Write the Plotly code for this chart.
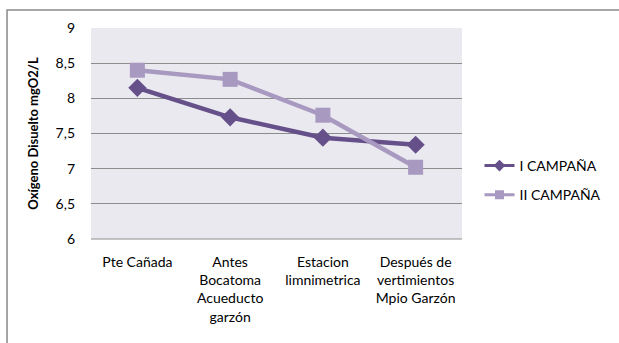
import plotly.graph_objects as go

# Sampling stations along the river
stations = [
    "Pte Cañada",
    "Antes<br>Bocatoma<br>Acueducto<br>garzón",
    "Estacion<br>limnimetrica",
    "Después de<br>vertimientos<br>Mpio Garzón",
]

# Dissolved oxygen (mgO2/L) per sampling campaign
campaign_1 = [8.15, 7.73, 7.44, 7.34]
campaign_2 = [8.40, 8.27, 7.76, 7.02]

y_ticks = [6, 6.5, 7, 7.5, 8, 8.5, 9]
y_tick_text = ["6", "6,5", "7", "7,5", "8", "8,5", "9"]

FONT = "Lato, Carlito, Calibri, sans-serif"
C1, C2 = "#65508a", "#a899c0"

fig = go.Figure()
fig.add_trace(go.Scatter(
    x=stations, y=campaign_1, name="I CAMPAÑA", showlegend=False,
    mode="lines+markers",
    line=dict(color=C1, width=4.5),
    marker=dict(symbol="diamond", size=14, color=C1),
))
fig.add_trace(go.Scatter(
    x=stations, y=campaign_2, name="II CAMPAÑA", showlegend=False,
    mode="lines+markers",
    line=dict(color=C2, width=4.5),
    marker=dict(symbol="square", size=15, color=C2),
))
# legend entries with thinner lines and small markers
fig.add_trace(go.Scatter(
    x=[None], y=[None], name="I CAMPAÑA", legendgroup="a",
    mode="lines+markers",
    line=dict(color=C1, width=3),
    marker=dict(symbol="diamond", size=9, color=C1),
))
fig.add_trace(go.Scatter(
    x=[None], y=[None], name="II CAMPAÑA", legendgroup="b",
    mode="lines+markers",
    line=dict(color=C2, width=3),
    marker=dict(symbol="square", size=9, color=C2),
))

W, H = 619, 343
ml, mr, mt, mb = 91, 148, 28, 104
pw, ph = W - ml - mr, H - mt - mb

fig.update_layout(
    width=W, height=H,
    margin=dict(l=ml, r=mr, t=mt, b=mb),
    paper_bgcolor="white",
    plot_bgcolor="#ebe9f0",
    font=dict(family=FONT, size=14, color="#000000"),
    showlegend=True,
    legend=dict(
        x=(619 - ml) / pw, y=(239 - 150) / ph,
        xanchor="right", yanchor="top",
        bgcolor="rgba(0,0,0,0)",
        font=dict(family=FONT, size=14),
        itemwidth=30, tracegroupgap=8,
    ),
    xaxis=dict(
        type="category",
        showgrid=False, zeroline=False,
        showline=False,
        ticks="", ticklabelstandoff=13,
        tickfont=dict(family=FONT, size=14),
        range=[-0.5, 3.5],
    ),
    yaxis=dict(
        range=[6, 9],
        tickvals=y_ticks, ticktext=y_tick_text,
        showgrid=True, gridcolor="#8c8c8c", gridwidth=1,
        zeroline=False,
        showline=False,
        ticks="", ticklabelstandoff=15,
        tickfont=dict(family=FONT, size=14),
        title=dict(text="<b>Oxígeno Disuelto mgO2/L</b>",
                   font=dict(family=FONT, size=13), standoff=14),
    ),
    shapes=[
        # outer chart frame
        dict(type="rect", xref="paper", yref="paper",
             x0=(5 - ml) / pw, x1=(W + 30 - ml) / pw,
             y0=(H - mb - (H + 30)) / ph, y1=(H - mb - 10) / ph,
             line=dict(color="#8a8a8a", width=1.5), fillcolor="rgba(0,0,0,0)",
             layer="below"),
        # plot-area bottom border
        dict(type="line", xref="paper", yref="paper", x0=0, x1=1, y0=0, y1=0,
             line=dict(color="#8c8c8c", width=1)),
    ],
)

fig.write_html("out.html")
